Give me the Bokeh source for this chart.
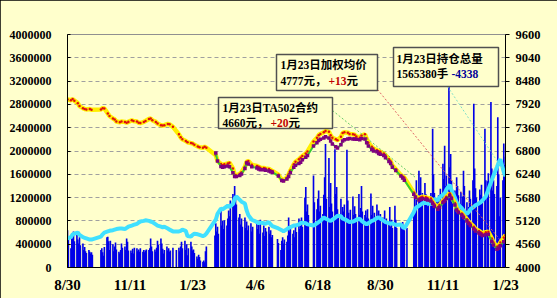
import pandas as pd
from bokeh.plotting import figure
from bokeh.models import (Range1d, LinearAxis, FixedTicker, NumeralTickFormatter,
                          Label, BoxAnnotation, Arrow, ColumnDataSource)
from bokeh.embed import file_html
from bokeh.resources import INLINE

# ---------------- data ----------------
START = "2012-08-30"
END = "2014-01-23"
holidays = ["2012-10-01", "2012-10-02", "2012-10-03", "2012-10-04", "2012-10-05",
            "2013-01-01", "2013-01-02", "2013-01-03",
            "2013-02-11", "2013-02-12", "2013-02-13", "2013-02-14", "2013-02-15",
            "2013-04-04", "2013-04-05", "2013-04-29", "2013-04-30", "2013-05-01",
            "2013-06-10", "2013-06-11", "2013-06-12", "2013-09-19", "2013-09-20",
            "2013-10-01", "2013-10-02", "2013-10-03", "2013-10-04", "2013-10-07",
            "2014-01-01"]

x_tick_days = [0, 73, 146, 219, 292, 365, 438, 511]
x_tick_labels = ["8/30", "11/11", "1/23", "4/6", "6/18", "8/30", "11/11", "1/23"]
volume_ticks = [0, 400000, 800000, 1200000, 1600000, 2000000, 2400000, 2800000, 3200000, 3600000, 4000000]
price_ticks = [4000, 4560, 5120, 5680, 6240, 6800, 7360, 7920, 8480, 9040, 9600]

# daily volume (10k tonnes), one value per trading day
volume_10k = [
    64, 50,  # Aug 2012
    33, 58, 50, 62, 45, 60, 48, 41, 52, 38, 41, 30, 35, 28, 25, 30, 27, 24, 26, 22,  # Sep
    30, 33, 26, 20, 35, 52, 53, 45, 30, 46, 40, 28, 36, 43, 31, 27, 24, 30,  # Oct
    41, 34, 36, 30, 50, 44, 29, 29, 25, 32, 24, 34, 33, 28, 31, 27, 33, 27, 30, 26, 29, 31,  # Nov
    30, 33, 50, 36, 28, 31, 27, 34, 46, 39, 50, 41, 32, 24, 30, 36, 29, 33, 27, 29, 34,  # Dec
    30, 34, 28, 36, 44, 33, 46, 30, 40, 21, 33, 44, 36, 29, 31, 25, 19, 15, 22, 18,  # Jan 2013
    12, 10, 12, 9, 28, 36, 55, 76, 62, 70, 58, 98, 72, 80, 66,  # Feb
    81, 72, 84, 98, 88, 115, 126, 112, 140, 124, 108, 86, 92, 74, 84, 70, 86, 68, 79, 64, 72,  # Mar
    76, 62, 70, 80, 66, 76, 58, 82, 60, 72, 54, 68, 62, 70, 58, 64, 52, 56,  # Apr
    49, 42, 30, 46, 52, 41, 48, 44, 55, 86, 62, 72, 58, 64, 52, 70, 61, 84, 66, 72, 86, 70,  # May
    120, 138, 96, 108, 90, 158, 112, 100, 118, 132, 96, 106, 92, 125, 155, 212, 118,  # Jun
    188, 104, 145, 110, 96, 203, 126, 138, 100, 92, 118, 88, 104, 96, 108, 202, 115, 94, 84, 99, 122, 90, 105,  # Jul
    92, 84, 126, 90, 102, 140, 96, 90, 98, 86, 100, 84, 127, 90, 106, 84, 94, 108, 86, 98, 82, 92,  # Aug
    86, 80, 98, 78, 84, 74, 104, 70, 82, 68, 106, 82, 68, 72, 66, 78, 70, 64, 68,  # Sep
    100, 118, 95, 150, 166, 132, 155, 120, 128, 145, 126, 118, 105, 115, 128, 112, 238, 160,  # Oct
    128, 118, 106, 124, 110, 135, 178, 152, 209, 140, 158, 315, 172, 195, 150, 126, 132, 118, 155, 140, 124,  # Nov
    130, 108, 122, 166, 140, 112, 86, 104, 132, 118, 150, 281, 170, 136, 120, 110, 134, 125, 142, 118, 238, 150,  # Dec
    148, 162, 284, 170, 132, 150, 126, 140, 258, 160, 88, 120, 150, 213, 176, 190,  # Jan 2014
]

# open interest (10k), every second trading day
open_interest_10k = [
    50,
    52, 57, 58, 60, 56, 52, 51, 50, 48, 48,
    53, 57, 60, 62, 63, 64, 65, 66, 67,
    67, 66, 68, 70, 72, 73, 75, 77, 79, 80, 81,
    80, 79, 78, 74, 72, 70, 69, 70, 67, 65, 62,
    62, 63, 65, 63, 54, 53, 56, 58, 57, 56,
    54, 55, 58, 82, 92, 101, 100,
    102, 106, 104, 109, 118, 122, 116, 113, 110, 98, 90,
    82, 78, 76, 77, 76, 75, 78, 74, 71,
    67, 64, 62, 66, 68, 69, 72, 72, 74, 76, 77,
    76, 74, 72, 76, 78, 80, 86, 84,
    81, 80, 82, 86, 89, 88, 84, 83, 80, 78, 79, 80,
    82, 84, 80, 76, 74, 76, 80, 81, 85, 86, 84,
    80, 78, 76, 75, 76, 73, 74, 70, 67,
    95, 102, 106, 108, 110, 112, 110, 109, 112,
    118, 115, 120, 125, 127, 134, 142, 133, 120, 112, 108,
    102, 98, 92, 95, 100, 104, 107, 110, 112, 115, 122,
    134, 150, 158, 172, 180, 186, 164, 156.5,
]

# weighted average price (yuan/t), every second trading day
weighted_price = [
    8040,
    8020, 8050, 8010, 7950, 7880, 7830, 7810, 7800, 7810, 7790,
    7800, 7830, 7820, 7700, 7640, 7580, 7560, 7510, 7490,
    7510, 7500, 7480, 7500, 7540, 7520, 7510, 7480, 7470, 7500, 7520,
    7570, 7580, 7540, 7500, 7460, 7420, 7410, 7420, 7450, 7440, 7380,
    7200, 7130, 7080, 7040, 7010, 6990, 6980, 6950, 6910, 6890,
    6880, 6900, 6880, 6700, 6560, 6490, 6460,
    6480, 6500, 6520, 6380, 6230, 6210, 6250, 6290, 6420, 6540, 6560,
    6470, 6440, 6420, 6400, 6390, 6380, 6370, 6340, 6320,
    6230, 6110, 6100, 6160, 6240, 6330, 6480, 6540, 6600, 6640, 6680,
    6740, 6790, 7030, 7120, 7180, 7210, 7250, 7280,
    7260, 7180, 7120, 7080, 7060, 7140, 7230, 7250, 7240, 7210, 7200, 7190,
    7150, 7120, 7170, 7200, 7100, 7000, 6900, 6860, 6820, 6790, 6780,
    6740, 6700, 6600, 6550, 6450, 6360, 6220, 6190, 6160,
    5800, 5720, 5660, 5680, 5700, 5690, 5670, 5660, 5580,
    5520, 5450, 5500, 5600, 5640, 5700, 5780, 5700, 5550, 5420, 5360,
    5300, 5250, 5160, 5100, 5060, 4980, 4920, 4880, 4850, 4820, 4850,
    4860, 4700, 4600, 4500, 4520, 4600, 4720, 4777,
]

# TA contract price (yuan/t), every second trading day from 2013-02-19
contract_price = [
    6750, 6560, 6430, 6410,
    6420, 6440, 6420, 6280, 6190, 6190, 6210, 6250, 6380, 6510, 6490,
    6420, 6390, 6370, 6350, 6350, 6340, 6320, 6300, 6290,
    6200, 6090, 6080, 6130, 6190, 6280, 6410, 6460, 6500, 6530, 6590,
    6650, 6690, 6920, 7000, 7050, 7080, 7110, 7140,
    7110, 7040, 6970, 6900, 6870, 6950, 7040, 7070, 7090, 7100, 7090, 7090,
    7080, 7070, 7100, 7090, 7000, 6920, 6840, 6800, 6780, 6740, 6720,
    6690, 6640, 6550, 6500, 6410, 6330, 6200, 6150, 6100,
    5760, 5690, 5620, 5640, 5650, 5640, 5620, 5600, 5540,
    5470, 5400, 5450, 5560, 5600, 5660, 5730, 5660, 5500, 5380, 5320,
    5260, 5200, 5120, 5060, 5010, 4930, 4880, 4830, 4800, 4770, 4790,
    4800, 4630, 4540, 4440, 4460, 4520, 4620, 4660,
]

# ---------------- build x positions ----------------
start = pd.Timestamp(START)
days = pd.bdate_range(start, pd.Timestamp(END))
days = days[~days.isin(pd.to_datetime(holidays))]
day_x = [(d - start).days for d in days]
n = min(len(day_x), len(volume_10k))
vol_src = ColumnDataSource(dict(x=day_x[:n], v=[v * 10000 for v in volume_10k[:n]]))

samp_x = day_x[::2]
m = min(len(samp_x), len(open_interest_10k))
oi_src = ColumnDataSource(dict(x=samp_x[:m], v=[v * 10000 for v in open_interest_10k[:m]]))
m2 = min(len(samp_x), len(weighted_price))
wp_src = ColumnDataSource(dict(x=samp_x[:m2], p=weighted_price[:m2]))
cx = samp_x[-len(contract_price):]
cp_src = ColumnDataSource(dict(x=cx, p=contract_price[:len(cx)]))

# ---------------- figure ----------------
BG = "#FFFFCC"
W, H = 557, 298
FL, FR, FT, FB = 67, 505, 34, 267
XMAX = 511
YMAX = 4000000

p = figure(width=W, height=H, output_backend="svg", toolbar_location=None,
           x_range=Range1d(0, XMAX), y_range=Range1d(0, YMAX),
           min_border_left=FL, min_border_right=W - FR, min_border_top=FT,
           min_border_bottom=H - FB, background_fill_color=BG, border_fill_color=BG,
           outline_line_color="#909090")
p.styles = {"outline": "1px solid #000000", "outline-offset": "-1px"}
p.extra_y_ranges = {"price": Range1d(4000, 9600)}

SERIF = "Liberation Serif"
MIX = "Liberation Serif, Noto Sans CJK SC"

p.xgrid.visible = False
p.ygrid.ticker = FixedTicker(ticks=volume_ticks)
p.ygrid.grid_line_color = "#A0A0A0"
p.ygrid.grid_line_dash = "4 3"

yax = p.yaxis[0]
yax.ticker = FixedTicker(ticks=volume_ticks)
yax.formatter = NumeralTickFormatter(format="0")
yax.major_label_text_font = SERIF
yax.major_label_text_font_style = "bold"
yax.major_label_text_font_size = "12px"
yax.major_label_text_color = "#000000"
yax.axis_line_color = "#000000"
yax.major_tick_in = 3
yax.major_tick_out = 0
yax.minor_tick_line_color = None
yax.major_label_standoff = 16

xax = p.xaxis[0]
xax.ticker = FixedTicker(ticks=x_tick_days)
xax.major_label_overrides = {t: lab for t, lab in zip(x_tick_days, x_tick_labels)}
xax.major_label_text_font = SERIF
xax.major_label_text_font_style = "bold"
xax.major_label_text_font_size = "15px"
xax.major_label_text_color = "#000000"
xax.axis_line_color = "#000000"
xax.major_tick_in = 0
xax.major_tick_out = 0
xax.minor_tick_line_color = None
xax.major_label_standoff = 9

rax = LinearAxis(y_range_name="price", ticker=FixedTicker(ticks=price_ticks))
rax.major_label_text_font = SERIF
rax.major_label_text_font_style = "bold"
rax.major_label_text_font_size = "12.5px"
rax.major_label_text_color = "#000000"
rax.axis_line_color = "#000000"
rax.major_tick_out = 4
rax.major_tick_in = 0
rax.minor_tick_line_color = None
rax.major_label_standoff = 6
p.add_layout(rax, "right")

# ---------------- glyphs ----------------
p.vbar(x="x", top="v", width=1.9, source=vol_src, fill_color="#0000E8", line_color=None)
p.line("x", "v", source=oi_src, line_color="#40E0FF", line_width=4)
p.line("x", "p", source=wp_src, y_range_name="price", line_color="#FFEE00", line_width=4.5)
p.scatter("x", "p", source=wp_src, y_range_name="price", marker="circle", size=2.5,
          fill_color="#E01010", line_color=None)
p.line("x", "p", source=cp_src, y_range_name="price", line_color="#33CC33", line_width=2)
p.scatter("x", "p", source=cp_src, y_range_name="price", marker="square", size=3.5,
          fill_color="#800080", line_color=None)

# ---------------- annotations (pixel layout helpers) ----------------
def dx(px):
    return (px - FL) / (FR - FL) * XMAX

def dy(py):
    return (FB - py) / (FB - FT) * YMAX

def lab(px, py, text, size="11.5px", color="#000000", align="left", font=MIX):
    p.add_layout(Label(x=dx(px), y=dy(py), text=text, text_font=font, text_font_size=size,
                       text_font_style="bold", text_color=color, text_align=align,
                       text_baseline="middle"))

# leader lines
for (x0, y0, x1, y1, c) in [(332, 110, 415, 177, "#66CC66"),
                            (377, 89, 500, 240, "#E06666"),
                            (447, 86, 503, 170, "#7FE0C8")]:
    p.add_layout(Arrow(end=None, x_start=dx(x0), y_start=dy(y0), x_end=dx(x1), y_end=dy(y1),
                       line_color=c, line_width=1, line_dash="2 2"))

for (l, r, t, b) in [(218, 332, 97, 128), (276, 377, 54, 90), (393, 498, 47, 86)]:
    p.add_layout(BoxAnnotation(left=dx(l), right=dx(r), top=dy(t), bottom=dy(b),
                               fill_color=BG, fill_alpha=1.0, line_color="#505050",
                               line_width=1.5, line_alpha=1.0))

# title and unit labels
lab(277, 19, "2012/14年度郑商所PTA期货日交易情况", size="16px", color="#B00000", align="center")
lab(37, 16, "吨", size="12px", align="center")
lab(512, 15, "元/吨", size="12px", align="center")

# box 1
lab(222, 107, "1月23日TA502合约")
lab(222, 122, "4660元，")
lab(270, 122, "+20", color="#C00000")
lab(288, 122, "元")
# box 2
lab(280, 64, "1月23日加权均价")
lab(280, 80, "4777元，")
lab(328, 80, "+13", color="#C00000")
lab(346, 80, "元")
# box 3
lab(396, 58, "1月23日持仓总量")
lab(396, 73, "1565380手")
lab(451, 73, "-4338", color="#000099")

open("out.html", "w").write(file_html(p, INLINE))
